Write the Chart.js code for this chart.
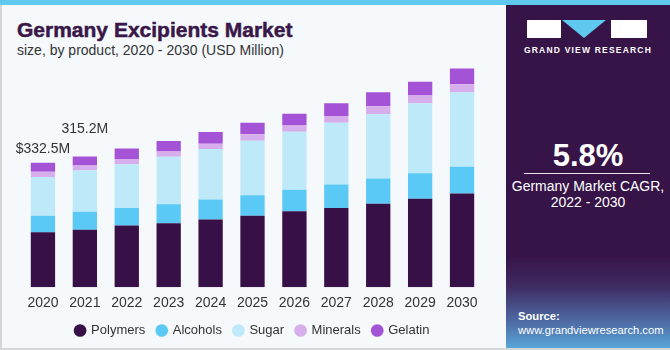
<!DOCTYPE html>
<html>
<head>
<meta charset="utf-8">
<script src="https://cdn.jsdelivr.net/npm/chart.js@4"></script>
<style>
  html, body { margin: 0; padding: 0; }
  body { width: 670px; height: 350px; position: relative; overflow: hidden; background: #f5f9fc; font-family: "Liberation Sans", Arial, sans-serif; }
  #topbar { position: absolute; left: 0; top: 0; width: 670px; height: 5px; background: #5ec8ef; }
  #frame { position: absolute; left: 0; top: 5px; width: 670px; height: 345px; border-left: 2px solid #d4d6d8; border-bottom: 2px solid #d4d6d8; box-sizing: border-box; }
  #title { position: absolute; left: 17px; top: 18px; font-size: 21px; font-weight: 900; color: #3a1748; -webkit-text-stroke: 0.5px #3a1748; }
  #subtitle { position: absolute; left: 17px; top: 42px; font-size: 14px; color: #333; }
  #chartWrap { position: absolute; left: 0; top: 60px; width: 505px; height: 288px; }
  #side { position: absolute; left: 506px; top: 5px; width: 164px; height: 343px; background: linear-gradient(to bottom, #371447 0%, #371447 73%, #3f2a62 82%, #4f6fa8 93%, #5aa6d8 100%); }
  .logo { position: absolute; top: 20px; height: 18px; background: #fff; }
  #tri { position: absolute; left: 562px; top: 20px; width: 0; height: 0; border-left: 22px solid transparent; border-right: 22px solid transparent; border-top: 18px solid #5ec8ef; }
  #gvr { position: absolute; left: 506px; top: 45px; width: 164px; text-align: center; font-size: 8.5px; font-weight: bold; letter-spacing: 1.2px; color: #fff; }
  #cagr { position: absolute; left: 506px; top: 140px; width: 164px; text-align: center; font-size: 31px; line-height: 31px; font-weight: bold; color: #fff; }
  #line { position: absolute; left: 524px; top: 173px; width: 126px; height: 1px; background: #e8e0ee; }
  #cagrText { position: absolute; left: 506px; top: 178px; width: 164px; text-align: center; font-size: 14px; line-height: 16px; color: #fff; }
  #source { position: absolute; left: 518px; top: 309px; font-size: 11.2px; line-height: 14px; color: #fff; }
</style>
</head>
<body>
<div id="topbar"></div>
<div id="frame"></div>
<div id="title">Germany Excipients Market</div>
<div id="subtitle">size, by product, 2020 - 2030 (USD Million)</div>
<div id="chartWrap"><canvas id="chart" width="505" height="288"></canvas></div>
<div id="side"></div>
<div class="logo" style="left:527px; width:34px;"></div>
<div id="tri"></div>
<div class="logo" style="left:611px; width:36px;"></div>
<div id="gvr">GRAND VIEW RESEARCH</div>
<div id="cagr">5.8%</div>
<div id="line"></div>
<div id="cagrText">Germany Market CAGR,<br>2022 - 2030</div>
<div id="source"><b>Source:</b><br>www.grandviewresearch.com</div>
<script>
const years = ['2020', '2021', '2022', '2023', '2024', '2025', '2026', '2027', '2028', '2029', '2030'];
const polymers = [147, 154, 165, 171, 181, 191, 203, 212, 223, 237, 251];
const alcohols = [44, 48, 47, 51, 54, 55, 58, 63, 68, 68, 71];
const sugar = [104, 110, 117, 127, 135, 146, 155, 165, 172, 187, 200];
const minerals = [14, 14, 14, 14, 14, 17, 17, 18, 21, 21, 21];
const gelatin = [24, 24, 28, 28, 31, 31, 31, 34, 38, 37, 42];
const barLabels = ['$332.5M', '315.2M'];
const barLabelOffsets = [10, 23];

const colors = {
  Polymers: '#371047',
  Alcohols: '#5bc9f5',
  Sugar: '#bde9f8',
  Minerals: '#d7aeec',
  Gelatin: '#a452d6'
};

function makeSet(label, data) {
  return {
    label: label,
    data: data,
    backgroundColor: colors[label],
    borderWidth: 0,
    barPercentage: 0.58,
    categoryPercentage: 1.0
  };
}

// text above the first two bars
const valueLabels = {
  id: 'valueLabels',
  afterDatasetsDraw(chart) {
    const ctx = chart.ctx;
    const top = chart.getDatasetMeta(chart.data.datasets.length - 1);
    ctx.save();
    ctx.font = '14px "Liberation Sans", Arial, sans-serif';
    ctx.fillStyle = '#333';
    ctx.textAlign = 'center';
    ctx.textBaseline = 'alphabetic';
    barLabels.forEach((txt, i) => {
      const bar = top.data[i];
      ctx.fillText(txt, bar.x, bar.y - barLabelOffsets[i]);
    });
    ctx.restore();
  }
};

new Chart(document.getElementById('chart'), {
  type: 'bar',
  data: {
    labels: years,
    datasets: [
      makeSet('Polymers', polymers),
      makeSet('Alcohols', alcohols),
      makeSet('Sugar', sugar),
      makeSet('Minerals', minerals),
      makeSet('Gelatin', gelatin)
    ]
  },
  options: {
    responsive: false,
    animation: false,
    layout: { padding: { left: 22, right: 22, top: 0, bottom: 1 } },
    scales: {
      x: {
        stacked: true,
        grid: { display: false },
        border: { display: false },
        ticks: { color: '#333', font: { size: 14, family: '"Liberation Sans", Arial, sans-serif' }, padding: 0 }
      },
      y: {
        stacked: true,
        display: false,
        min: 0,
        max: 608
      }
    },
    plugins: {
      legend: {
        position: 'bottom',
        labels: {
          usePointStyle: true,
          pointStyle: 'circle',
          boxWidth: 9,
          boxHeight: 9,
          padding: 12,
          color: '#333',
          font: { size: 13, family: '"Liberation Sans", Arial, sans-serif' }
        }
      },
      tooltip: { enabled: false }
    }
  },
  plugins: [valueLabels]
});
</script>
</body>
</html>
